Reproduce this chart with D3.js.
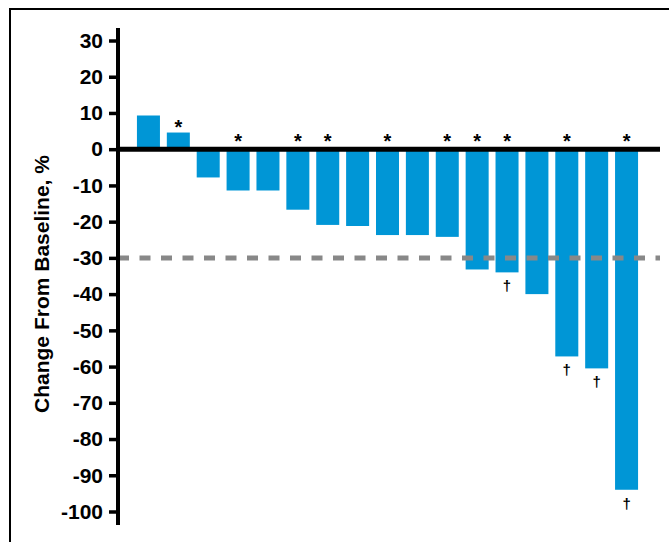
<!DOCTYPE html>
<html>
<head>
<meta charset="utf-8">
<script src="https://cdn.jsdelivr.net/npm/d3@7"></script>
<style>
  html, body { margin: 0; padding: 0; background: #fff; }
  svg { display: block; }
</style>
</head>
<body>
<div id="chart"></div>
<script>
// waterfall of best change from baseline, one bar per patient
const patients = ["1", "2", "3", "4", "5", "6", "7", "8", "9", "10", "11", "12", "13", "14", "15", "16", "17"];
const changes = [9.3, 4.6, -7.8, -11.4, -11.4, -16.7, -20.9, -21.2, -23.7, -23.7, -24.2, -33.2, -34.0, -40.0, -57.2, -60.5, -94.0];
const starred = ["2", "4", "6", "7", "9", "11", "12", "13", "15", "17"];
const daggered = ["13", "15", "16", "17"];
const yTicks = [30, 20, 10, 0, -10, -20, -30, -40, -50, -60, -70, -80, -90, -100];
const threshold = -30;

const width = 669, height = 542;
const font = "'Liberation Sans', Arial, Helvetica, sans-serif";
const barColor = "#0096d6";

const svg = d3.select("#chart").append("svg")
  .attr("width", width)
  .attr("height", height)
  .style("font-family", font);

// frame (top + left edges only show in the picture)
svg.append("line")
  .attr("x1", 10).attr("x2", width).attr("y1", 9).attr("y2", 9)
  .attr("stroke", "#000").attr("stroke-width", 2);
svg.append("line")
  .attr("x1", 10).attr("x2", 10).attr("y1", 8).attr("y2", height)
  .attr("stroke", "#000").attr("stroke-width", 2);

const x = d3.scaleBand()
  .domain(patients)
  .range([133.5, 641.5])
  .paddingInner(0.23)
  .paddingOuter(0.115);

const y = d3.scaleLinear()
  .domain([-100, 30])
  .range([511.5, 40.5]);

const axisX = 118;

// bars
svg.append("g")
  .selectAll("rect")
  .data(patients)
  .join("rect")
  .attr("x", d => x(d))
  .attr("width", x.bandwidth())
  .attr("y", (d, i) => Math.min(y(0), y(changes[i])))
  .attr("height", (d, i) => Math.abs(y(changes[i]) - y(0)))
  .attr("fill", barColor);

// -30% reference line
svg.append("line")
  .attr("x1", axisX).attr("x2", 660)
  .attr("y1", y(threshold)).attr("y2", y(threshold))
  .attr("stroke", "#888")
  .attr("stroke-width", 5)
  .attr("stroke-dasharray", "11,10.5");

// zero line
svg.append("line")
  .attr("x1", axisX).attr("x2", 660)
  .attr("y1", y(0)).attr("y2", y(0))
  .attr("stroke", "#000")
  .attr("stroke-width", 5);

// y axis
const yAxis = d3.axisLeft(y)
  .tickValues(yTicks)
  .tickSize(9)
  .tickPadding(6)
  .tickFormat(d => String(d));

const gy = svg.append("g")
  .attr("transform", `translate(${axisX},0)`)
  .call(yAxis);
gy.select(".domain").remove();
gy.selectAll(".tick line")
  .attr("stroke", "#000")
  .attr("stroke-width", 3.5);
gy.selectAll(".tick text")
  .attr("fill", "#000")
  .style("font-family", font)
  .style("font-size", "21px")
  .style("font-weight", "bold");

svg.append("line")
  .attr("x1", axisX).attr("x2", axisX)
  .attr("y1", 28).attr("y2", 525)
  .attr("stroke", "#000")
  .attr("stroke-width", 4);

// axis title
svg.append("text")
  .attr("transform", `translate(49,284) rotate(-90)`)
  .attr("text-anchor", "middle")
  .style("font-size", "21px")
  .style("font-weight", "bold")
  .text("Change From Baseline, %");

// significance stars, above the zero line or above a positive bar
svg.append("g")
  .selectAll("text")
  .data(starred)
  .join("text")
  .attr("x", d => x(d) + x.bandwidth() / 2)
  .attr("y", d => Math.min(y(0) - 2.5, y(changes[patients.indexOf(d)])) + 1)
  .attr("text-anchor", "middle")
  .attr("fill", "#000")
  .style("font-size", "20px")
  .style("font-weight", "bold")
  .text("*");

// daggers under the bar ends
svg.append("g")
  .selectAll("text")
  .data(daggered)
  .join("text")
  .attr("x", d => x(d) + x.bandwidth() / 2)
  .attr("y", d => y(changes[patients.indexOf(d)]) + 19)
  .attr("text-anchor", "middle")
  .attr("fill", "#000")
  .style("font-size", "15px")
  .style("font-weight", "bold")
  .text("†");
</script>
</body>
</html>
